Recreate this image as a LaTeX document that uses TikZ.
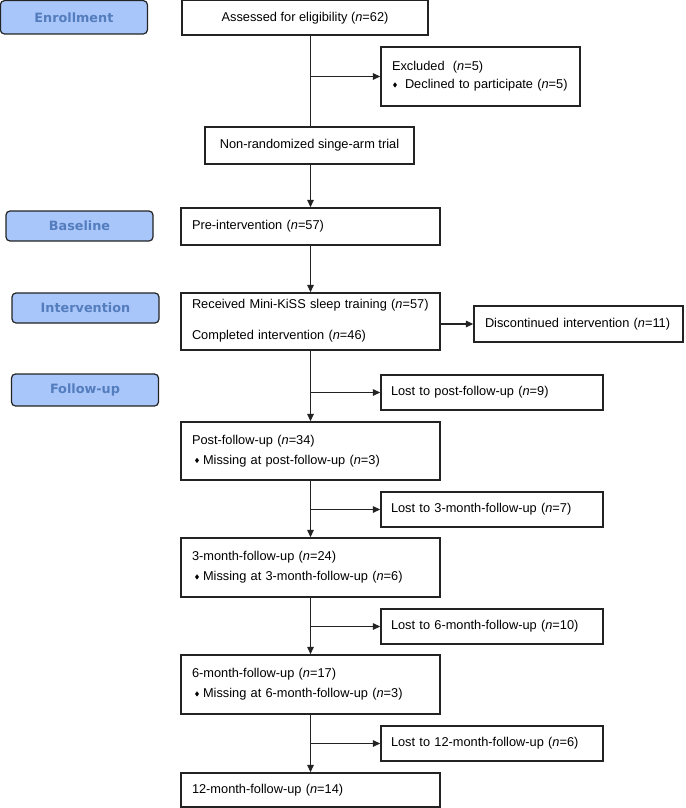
\documentclass[tikz,border=0pt]{standalone}
\usepackage{fontspec}
\setmainfont{Liberation Sans}
\newfontfamily\lblfont{DejaVu Sans}
\usetikzlibrary{arrows.meta}
\definecolor{lblfill}{RGB}{169,198,250}
\definecolor{lbltext}{RGB}{84,125,190}
\definecolor{bordr}{RGB}{35,35,35}
\newcommand{\bul}{\tikz[baseline=0pt]\fill (0pt,1.3pt) -- (2pt,3.9pt) -- (0pt,6.5pt) -- (-2pt,3.9pt) -- cycle;}
\begin{document}
\begin{tikzpicture}[x=1pt,y=-1pt,
  font=\fontsize{12.8}{15.4}\selectfont,
  boxc/.style={draw=bordr, line width=1.4pt, rectangle, inner sep=0pt, align=center},
  boxl/.style={draw=bordr, line width=1.4pt, rectangle, inner ysep=0pt, inner xsep=11pt, align=left},
  lbl/.style={draw=bordr, line width=1.2pt, fill=lblfill, rounded corners=4pt, minimum width=147, inner sep=0pt,
    text=lbltext, font=\lblfont\bfseries\fontsize{12.8}{15}\selectfont},
  arr/.style={draw=bordr, line width=1.4pt, -{Triangle[length=7.5pt,width=6.5pt]}},
  ln/.style={draw=bordr, line width=1.4pt}]
\useasboundingbox (0,0) rectangle (685,808);

% stage labels
\node[lbl, minimum height=33.3] (enroll) at (73.9,17.3) {Enrollment};
\node[lbl, minimum height=30] (base) at (79.5,226) {Baseline};
\node[lbl, minimum height=30] (interv) at (85.5,308) {Intervention};
\node[lbl, minimum height=32] (follow) at (85,390) {Follow-up};

% main boxes
\node[boxc, minimum width=246, minimum height=34.3] (assess) at (305,17.8) {Assessed for eligibility (\textit{n}=62)};
\node[boxl, minimum width=199, minimum height=59, text width=177] (excl) at (480.5,76.5)
  {Excluded\hspace{4pt} (\textit{n}=5)\\[2.6pt]\hspace{1pt}\bul\hspace{8pt}Declined to participate (\textit{n}=5)};
\node[boxc, minimum width=209, minimum height=37] (nonrand) at (309.5,145.5) {Non-randomized singe-arm trial};
\node[boxl, minimum width=259, minimum height=37, text width=237] (pre) at (310.5,226.5) {Pre-intervention (\textit{n}=57)};
\node[boxl, minimum width=259, minimum height=57, text width=237] (recv) at (310.5,321.5)
  {\mbox{}\\[-7pt]Received Mini-KiSS sleep training (\textit{n}=57)\\[15.6pt]Completed intervention (\textit{n}=46)};
\node[boxl, minimum width=209, minimum height=36, text width=187] (disc) at (578.5,324) {Discontinued intervention (\textit{n}=11)};

\node[boxl, minimum width=222, minimum height=35, text width=202, inner xsep=10pt] (lost1) at (492,392.5) {Lost to post-follow-up (\textit{n}=9)};
\node[boxl, minimum width=259, minimum height=58, text width=237] (post) at (310.5,451)
  {Post-follow-up (\textit{n}=34)\\[4.6pt]\hspace{3pt}\bul\hspace{4pt}Missing at post-follow-up (\textit{n}=3)};
\node[boxl, minimum width=222, minimum height=35, text width=202, inner xsep=10pt] (lost2) at (492,509.5) {Lost to 3-month-follow-up (\textit{n}=7)};
\node[boxl, minimum width=259, minimum height=59, text width=237] (m3) at (310.5,567.5)
  {3-month-follow-up (\textit{n}=24)\\[4.6pt]\hspace{3pt}\bul\hspace{4pt}Missing at 3-month-follow-up (\textit{n}=6)};
\node[boxl, minimum width=222, minimum height=35, text width=202, inner xsep=10pt] (lost3) at (492,626.5) {Lost to 6-month-follow-up (\textit{n}=10)};
\node[boxl, minimum width=259, minimum height=59, text width=237] (m6) at (310.5,684.5)
  {6-month-follow-up (\textit{n}=17)\\[4.6pt]\hspace{3pt}\bul\hspace{4pt}Missing at 6-month-follow-up (\textit{n}=3)};
\node[boxl, minimum width=222, minimum height=35, text width=202, inner xsep=10pt] (lost4) at (492,743.5) {Lost to 12-month-follow-up (\textit{n}=6)};
\node[boxl, minimum width=259, minimum height=34, text width=237] (m12) at (310.5,790) {12-month-follow-up (\textit{n}=14)};

% connectors
\draw[ln] (assess.south -| pre.north) -- (pre.north |- nonrand.north);
\draw[arr] (pre.north |- excl.west) -- (excl.west);
\draw[arr] (pre.north |- nonrand.south) -- (pre.north);
\draw[arr] (pre.south) -- (recv.north);
\draw[arr] (recv.east |- disc.west) -- (disc.west);
\draw[arr] (recv.south) -- (post.north);
\draw[arr] (recv.south |- lost1.west) -- (lost1.west);
\draw[arr] (post.south) -- (m3.north);
\draw[arr] (post.south |- lost2.west) -- (lost2.west);
\draw[arr] (m3.south) -- (m6.north);
\draw[arr] (m3.south |- lost3.west) -- (lost3.west);
\draw[arr] (m6.south) -- (m12.north);
\draw[arr] (m6.south |- lost4.west) -- (lost4.west);
\end{tikzpicture}
\end{document}
